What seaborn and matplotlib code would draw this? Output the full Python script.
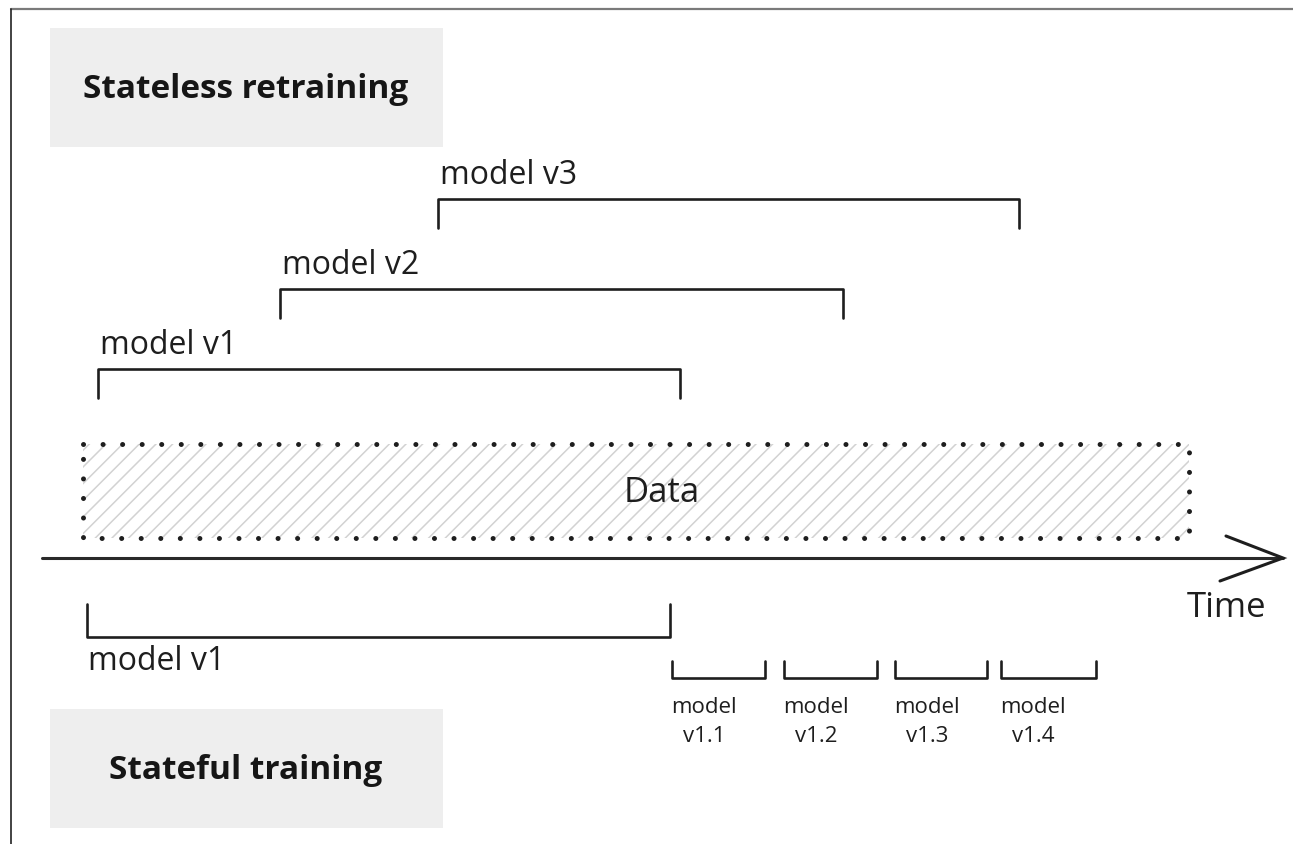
import matplotlib
matplotlib.use("Agg")
import matplotlib.pyplot as plt
from matplotlib.patches import Rectangle
import pandas as pd
import seaborn as sns

# Timeline positions (time measured along the arrow)
data_span = [83, 1189]

stateless_labels = ["model v1", "model v2", "model v3"]
stateless_start = [98, 280, 438]
stateless_end = [680, 843, 1019]

stateful_labels = ["model v1", "model\nv1.1", "model\nv1.2", "model\nv1.3", "model\nv1.4"]
stateful_start = [87, 672, 784, 895, 1001]
stateful_end = [670, 765, 877, 987, 1096]

sns.set_theme(style="white")
plt.rcParams["font.family"] = ["Open Sans", "DejaVu Sans"]
plt.rcParams["hatch.linewidth"] = 1.1

fig = plt.figure(figsize=(12.93, 8.45), dpi=100)
ax = fig.add_axes([0, 0, 1, 1])
ax.set_xlim(0, 1293)
ax.set_ylim(845, 0)
ax.axis("off")

ink = "#1e1e1e"

# frame of the original screenshot
ax.plot([11, 1293], [10, 10], color="#7a7a7a", lw=1.6)
ax.plot([11, 11], [10, 845], color="#222222", lw=1.2)

# title boxes
for y0, title in [(29, "Stateless retraining"), (710, "Stateful training")]:
    ax.add_patch(Rectangle((50, y0), 393, 119, facecolor="#eeeeee", edgecolor="none"))
    ax.text(246, y0 + 61, title, ha="center", va="center", fontsize=24,
            fontweight="bold", color="#161616")

# bracket shapes as one long table for seaborn
rows = []
levels_top = [370, 290, 200]
for i, (s, e) in enumerate(zip(stateless_start, stateless_end)):
    y = levels_top[i]
    for k, (px, py) in enumerate([(s, y + 29), (s, y), (e, y), (e, y + 29)]):
        rows.append({"x": px, "y": py, "id": f"a{i}", "k": k})
for i, (s, e) in enumerate(zip(stateful_start, stateful_end)):
    y, h = (638, 33) if i == 0 else (679, 17)
    for k, (px, py) in enumerate([(s, y - h), (s, y), (e, y), (e, y - h)]):
        rows.append({"x": px, "y": py, "id": f"b{i}", "k": k})
brackets = pd.DataFrame(rows)

sns.lineplot(data=brackets, x="x", y="y", units="id", estimator=None, sort=False,
             color=ink, linewidth=1.9, ax=ax)
ax.set_xlabel("")
ax.set_ylabel("")

# labels
for i, lab in enumerate(stateless_labels):
    ax.text(stateless_start[i] + 2, levels_top[i] - 24, lab, ha="left", va="center",
            fontsize=23, color=ink)
ax.text(stateful_start[0] + 1, 662, stateful_labels[0], ha="left", va="center",
        fontsize=23, color=ink)
for i in range(1, len(stateful_labels)):
    ax.text(stateful_start[i] + 32, 722, stateful_labels[i], ha="center", va="center",
            fontsize=16, color=ink, linespacing=1.55)

# data box
ax.add_patch(Rectangle((data_span[0], 445), data_span[1] - data_span[0], 94,
                       facecolor="white", edgecolor="#d2d2d2", hatch="//", lw=0))
box = Rectangle((data_span[0], 445), data_span[1] - data_span[0], 94,
                fill=False, edgecolor=ink, lw=3.6, linestyle=(0, (0.01, 3.9)))
box.set_capstyle("round")
ax.add_patch(box)
ax.text(662, 493, "Data", ha="center", va="center", fontsize=25, color=ink)

# time arrow
ax.plot([42, 1283], [559, 559], color="#2a2a2a", lw=2.2, solid_capstyle="round")
ax.plot([1226, 1283, 1220], [537, 559, 582], color=ink, lw=2.2,
        solid_capstyle="round", solid_joinstyle="miter")
ax.text(1227, 608, "Time", ha="center", va="center", fontsize=25, color=ink)

fig.savefig("out.png", dpi=100)
